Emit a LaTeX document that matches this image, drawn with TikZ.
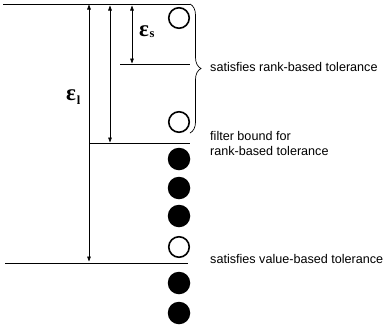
\documentclass[tikz,border=0pt]{standalone}
\usepackage{fontspec}
\setmainfont{Liberation Sans}
\newfontfamily\serifgr{Liberation Serif}
\usetikzlibrary{arrows.meta,decorations.pathreplacing}
\begin{document}
\begin{tikzpicture}[x=1pt,y=-1pt,
  hline/.style={line width=0.8pt},
  dim/.style={line width=0.6pt,{Triangle[length=5pt,width=3.6pt]}-{Triangle[length=5pt,width=3.6pt]},shorten <=1.5pt,shorten >=0.5pt},
  opendot/.style={circle,draw,line width=1.6pt,minimum size=20.5pt,inner sep=0pt},
  fulldot/.style={circle,fill,minimum size=22.5pt,inner sep=0pt},
  lbl/.style={font=\fontsize{12.6}{15}\selectfont,anchor=west,inner sep=0pt,align=left},
  eps/.style={font=\serifgr\bfseries\fontsize{23}{23}\selectfont,inner sep=0pt},
  sub/.style={font=\serifgr\bfseries\fontsize{12.5}{12.5}\selectfont,inner sep=0pt}]
\useasboundingbox (0,0) rectangle (386,333);
% levels
\coordinate (t0) at (3,4);   \coordinate (t1) at (190,4);
\coordinate (s0) at (120,64); \coordinate (s1) at (190,64);
\coordinate (f0) at (89,143); \coordinate (f1) at (190,143);
\coordinate (v0) at (5,263);  \coordinate (v1) at (188,263);
\draw[hline] (t0) -- (t1);
\draw[hline] (s0) -- (s1);
\draw[hline] (f0) -- (f1);
\draw[hline] (v0) -- (v1);
% dimension arrows
\coordinate (aLt) at (89,4);  \coordinate (aLb) at (89,263);
\coordinate (aMt) at (110,4); \coordinate (aMb) at (110,143);
\coordinate (aSt) at (132,4); \coordinate (aSb) at (132,64);
\draw[dim] (aLb) -- (aLt);
\draw[dim] (aMt) -- (aMb);
\draw[dim] (aSt) -- (aSb);
% epsilon labels
\node[eps] (el) at (71,95) {ε};
\node[sub,anchor=west] (elsub) at ([xshift=0.5pt,yshift=-5pt]el.east) {l};
\node[eps] (es) at (144,31) {ε};
\node[sub,anchor=west] (essub) at ([xshift=0.3pt,yshift=-4pt]es.east) {s};
% dots
\node[opendot] (c1) at (179,18) {};
\node[opendot] (c2) at (179,122) {};
\node[fulldot] (c3) at (179,159) {};
\node[fulldot] (c4) at (179,188) {};
\node[fulldot] (c5) at (179,216) {};
\node[opendot] (c6) at (179,247) {};
\node[fulldot] (c7) at (179,283) {};
\node[fulldot] (c8) at (179,313) {};
% brace
\coordinate (b0) at (190,4); \coordinate (b1) at (190,133);
\draw[line width=0.7pt,decorate,decoration={brace,amplitude=11pt}] (b0) -- (b1);
% labels
\node[lbl] (l1) at (210,67) {satisfies rank-based tolerance};
\node[lbl] (l2) at (210,143) {filter bound for\\rank-based tolerance};
\node[lbl] (l3) at (210,259) {satisfies value-based tolerance};
\end{tikzpicture}
\end{document}
